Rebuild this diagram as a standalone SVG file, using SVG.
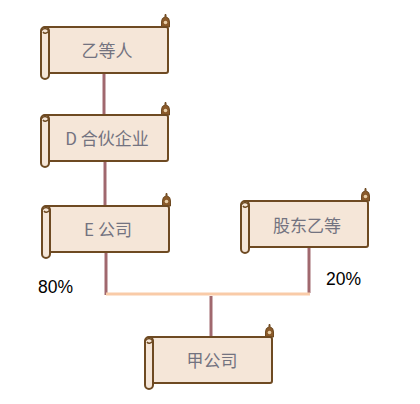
<svg xmlns="http://www.w3.org/2000/svg" xmlns:xlink="http://www.w3.org/1999/xlink" width="420" height="404" viewBox="0 0 420 404">
<style>
.body{fill:#f5e6d8;stroke:#6e4a22;stroke-width:2}
.knob{fill:#8a5a2a;stroke:#6e4a22;stroke-width:1}
.lbl{font-family:"Noto Sans CJK SC","Liberation Sans",sans-serif;font-size:17px;fill:#737380;text-anchor:middle;dominant-baseline:central}
.pct{font-family:"Liberation Sans","Noto Sans",sans-serif;font-size:17.5px;fill:#000}
.link{stroke:#a0686e;stroke-width:3;fill:none}
.bar{stroke:#f9cba8;stroke-width:3;fill:none}
</style>
<defs>
<g id="scroll">
<path class="knob" d="M120.5,0 L120.5,-5 Q120.5,-9.5 124,-10 L124,-12.5 L125,-12.5 L125,-10 Q128.5,-9.5 128.5,-5 L128.5,0 Z"/>
<circle cx="124.5" cy="-4.5" r="1.8" fill="#e8cfa8"/>
<rect class="body" x="3" y="0" width="124" height="46" rx="2"/>
<rect class="body" x="0" y="0" width="8" height="52" rx="4"/>
<path d="M0,4 Q4,-1 8,4 Q4,8 2,5" fill="none" stroke="#6e4a22" stroke-width="1.5"/>
</g>
</defs>
<g id="connectors">
<line class="link" x1="104" y1="73" x2="104" y2="115"/>
<line class="link" x1="105" y1="161" x2="105" y2="206"/>
<line class="link" x1="106" y1="252" x2="106" y2="295"/>
<line class="link" x1="309" y1="248" x2="309" y2="293"/>
<line class="bar" x1="106" y1="294" x2="310" y2="294"/>
<line class="link" x1="211" y1="296" x2="211" y2="337"/>
</g>
<g id="n1"><use xlink:href="#scroll" x="41" y="27"/><text class="lbl" x="107" y="49">乙等人</text></g>
<g id="n2"><use xlink:href="#scroll" x="41" y="115"/><text class="lbl" x="107" y="137">D 合伙企业</text></g>
<g id="n3"><use xlink:href="#scroll" x="42" y="206"/><text class="lbl" x="108" y="228">E 公司</text></g>
<g id="n4"><use xlink:href="#scroll" x="241" y="201"/><text class="lbl" x="307" y="224">股东乙等</text></g>
<g id="n5"><use xlink:href="#scroll" x="145" y="337"/><text class="lbl" x="212" y="359">甲公司</text></g>
<text class="pct" x="38" y="293">80%</text>
<text class="pct" x="326" y="285">20%</text>
</svg>
